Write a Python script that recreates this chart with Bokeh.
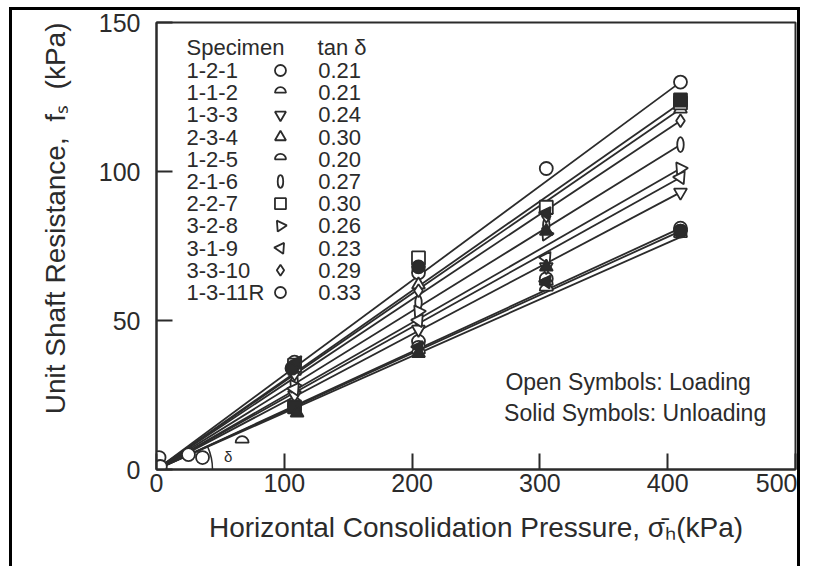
import numpy as np
from bokeh.plotting import figure
from bokeh.models import FixedTicker, Label, Range1d, Title
from bokeh.core.properties import value
from bokeh.embed import file_html
from bokeh.resources import INLINE

# ---- data -------------------------------------------------------------
specimens = ["1-2-1", "1-1-2", "1-3-3", "2-3-4", "1-2-5", "2-1-6",
             "2-2-7", "3-2-8", "3-1-9", "3-3-10", "1-3-11R"]
tan_delta = ["0.21", "0.21", "0.24", "0.30", "0.20", "0.27",
             "0.30", "0.26", "0.23", "0.29", "0.33"]
symbols = ["circle", "dome", "pin", "triangle", "dome", "ellipse",
           "square", "tri_left", "tri_right", "diamond", "circle"]

# loading stages, horizontal consolidation pressure (kPa)
stress_levels = [108, 205, 305, 410]
# unit shaft resistance (kPa) at each loading stage, in specimen order
fs_at_108 = [22, 21, 25, 33, 20, 30, 35, 28, 27, 32, 36]
fs_at_205 = [43, 41, 47, 62, 39, 56, 71, 53, 50, 60, 66]
fs_at_305 = [64, 62, 68, 87, 60, 82, 88, 79, 71, 85, 101]
fs_at_410 = [81, 80, 93, 121, 78, 109, 123, 101, 98, 117, 130]

# early loading readings close to the origin
early_sigma = [2, 3, 25, 36, 67]
early_fs = [4, 1, 5, 4, 9]
early_symbol = ["circle", "circle", "circle", "circle", "dome"]

# unloading readings (solid symbols)
unload_sigma = [410, 410, 305, 305, 305, 305, 205, 205, 205, 110, 106, 110, 108]
unload_fs = [124, 80, 86, 80, 68, 63, 68, 39, 41, 36, 34, 19, 21]
unload_symbol = ["square", "circle", "tri_right", "triangle", "triangle", "tri_right",
                 "circle", "triangle", "tri_right", "tri_right", "circle", "triangle", "square"]

x_ticks = [0, 100, 200, 300, 400, 500]
y_ticks = [0, 50, 100, 150]

# ---- styling ----------------------------------------------------------
INK = "#2b2b2b"
FONT = "Liberation Sans"

p = figure(width=791, height=559, output_backend="svg", toolbar_location=None,
           x_range=Range1d(0, 500), y_range=Range1d(0, 150),
           min_border_left=144, min_border_right=8,
           min_border_top=12, min_border_bottom=100)
p.background_fill_color = "white"
p.border_fill_color = "white"
p.grid.visible = False
p.outline_line_color = INK
p.outline_line_width = 2
# black page rule on the left, top and right
p.styles = {"margin-left": "9px", "margin-top": "7px",
            "border-left": "3px solid black", "border-top": "3px solid black",
            "border-right": "3px solid black"}

for ax, ticks in ((p.xaxis[0], x_ticks), (p.yaxis[0], y_ticks)):
    ax.ticker = FixedTicker(ticks=ticks)
    ax.axis_line_color = INK
    ax.axis_line_width = 2
    ax.major_tick_line_color = INK
    ax.major_tick_line_width = 2
    ax.major_tick_in = 16
    ax.major_tick_out = 0
    ax.minor_tick_line_color = None
    ax.major_label_text_font = FONT
    ax.major_label_text_font_size = "25px"
    ax.major_label_text_color = INK
p.yaxis[0].major_label_standoff = 16
p.xaxis[0].major_label_standoff = 4

# x axis title
xa = p.xaxis[0]
xa.axis_label = "Horizontal Consolidation Pressure, \u03c3\u0304\u2095(kPa)"
xa.axis_label_text_font = FONT
xa.axis_label_text_font_size = "28px"
xa.axis_label_text_font_style = "normal"
xa.axis_label_text_color = INK
xa.axis_label_standoff = 17

# y axis title, hung from the top of the frame
p.add_layout(Title(text="Unit Shaft Resistance,\u00a0 f\u209b\u00a0 (kPa)", align="right",
                   vertical_align="top", text_font=FONT, text_font_size="28px",
                   text_font_style="normal", text_color=INK, standoff=46), "left")

# ---- fitted lines through the origin ----------------------------------
for end in fs_at_410:
    p.line([0, stress_levels[-1]], [0, end], line_color=INK, line_width=1.8)

MARKERS = {"circle": ("circle", 0.0), "square": ("square", 0.0),
           "triangle": ("triangle", 0.0), "diamond": ("diamond", 0.0),
           "pin": ("inverted_triangle", 0.0), "tri_left": ("triangle", 0.6),
           "tri_right": ("triangle", -0.6)}


def draw_symbols(xs, ys, kinds, fill, size=13):
    groups = {}
    for x, y, k in zip(xs, ys, kinds):
        gx, gy = groups.setdefault(k, ([], []))
        gx.append(x)
        gy.append(y)
    for k, (gx, gy) in groups.items():
        if k == "dome":
            p.wedge(gx, gy, radius=size * 0.5, radius_units="screen",
                    start_angle=0, end_angle=np.pi,
                    fill_color=fill, line_color=INK, line_width=1.8)
        elif k == "ellipse":
            p.ellipse(gx, gy, width=size * 0.5, height=size * 1.15,
                      width_units="screen", height_units="screen",
                      fill_color=fill, line_color=INK, line_width=1.8)
        else:
            marker, angle = MARKERS[k]
            p.scatter(gx, gy, marker=marker, angle=angle, size=size,
                      fill_color=fill, line_color=INK, line_width=1.8)


# loading readings (open symbols)
for sig, column in zip(stress_levels, [fs_at_108, fs_at_205, fs_at_305, fs_at_410]):
    draw_symbols([sig] * len(column), column, symbols, "white")
draw_symbols(early_sigma, early_fs, early_symbol, "white")
# unloading readings (solid symbols)
draw_symbols(unload_sigma, unload_fs, unload_symbol, INK)

# interface friction angle
p.arc(x=[0], y=[0], radius=56, radius_units="screen", start_angle=0, end_angle=0.42,
      line_color=INK, line_width=1.5)
p.add_layout(Label(x=56, y=4.5, text="δ", text_font=FONT, text_font_size="15px",
                   text_color=INK, text_align="center", text_baseline="middle"))

# ---- specimen table ---------------------------------------------------
ROW0, STEP = 133.9, 7.45
rows_y = [ROW0 - STEP * i for i in range(len(specimens))]
p.text(x=[23.5] * len(specimens), y=rows_y, text=specimens, text_font=value(FONT),
       text_font_size="22px", text_color=INK, text_baseline="middle")
p.text(x=[126.5] * len(specimens), y=rows_y, text=tan_delta, text_font=value(FONT),
       text_font_size="22px", text_color=INK, text_baseline="middle")
draw_symbols([97] * len(specimens), rows_y, symbols, "white", size=11)
p.add_layout(Label(x=23.5, y=141.7, text="Specimen", text_font=FONT, text_font_size="22px",
                   text_color=INK, text_baseline="middle"))
p.add_layout(Label(x=126, y=141.7, text="tan δ", text_font=FONT, text_font_size="22px",
                   text_color=INK, text_baseline="middle"))

# ---- notes ------------------------------------------------------------
p.add_layout(Label(x=273, y=29.2, text="Open Symbols: Loading", text_font=FONT,
                   text_font_size="23px", text_color=INK, text_baseline="middle"))
p.add_layout(Label(x=272, y=19.1, text="Solid Symbols: Unloading", text_font=FONT,
                   text_font_size="23px", text_color=INK, text_baseline="middle"))

open("out.html", "w").write(file_html(p, INLINE))
